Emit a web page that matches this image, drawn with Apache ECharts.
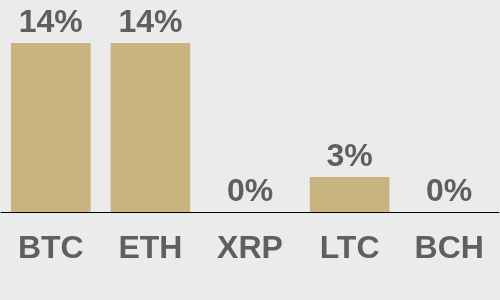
<!DOCTYPE html>
<html><head><meta charset="utf-8">
<script src="https://cdn.jsdelivr.net/npm/echarts@6/dist/echarts.min.js"></script>
<style>html,body{margin:0;padding:0;background:#ebebeb}#c{width:500px;height:300px}</style>
</head><body><div id="c"></div>
<script>
const categories = ['BTC', 'ETH', 'XRP', 'LTC', 'BCH'];
const shares = [14, 14, 0, 2.9, 0];

const chart = echarts.init(document.getElementById('c'), null, {renderer: 'canvas'});
chart.setOption({
  backgroundColor: '#ebebeb',
  animation: false,
  grid: {left: 1, right: 1, top: 43, bottom: 88},
  xAxis: {
    type: 'category', data: categories,
    axisLine: {lineStyle: {color: '#000', width: 1}},
    axisTick: {show: false},
    axisLabel: {color: '#5f5f5f', fontFamily: 'Liberation Sans, Arial, sans-serif', fontWeight: 'bold', fontSize: 32, margin: 21}
  },
  yAxis: {type: 'value', min: 0, max: 14, show: false, splitLine: {show: false}},
  series: [{
    type: 'bar', data: shares, barCategoryGap: '20%',
    itemStyle: {color: '#c8b47e'},
    label: {show: true, position: 'top', distance: 4, color: '#5f5f5f', fontFamily: 'Liberation Sans, Arial, sans-serif', fontWeight: 'bold', fontSize: 32,
      formatter: p => Math.round(p.value) + '%'}
  }]
});
</script></body></html>
